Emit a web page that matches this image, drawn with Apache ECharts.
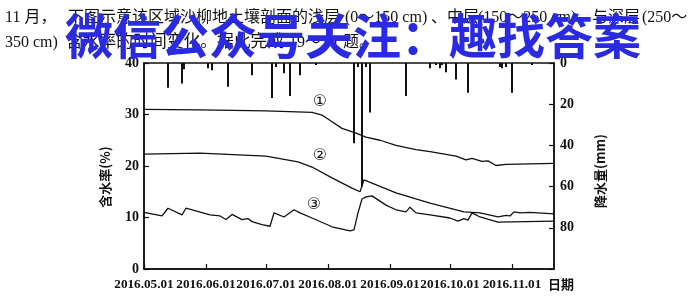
<!DOCTYPE html>
<html><head><meta charset="utf-8">
<script src="https://cdn.jsdelivr.net/npm/echarts@6/dist/echarts.min.js"></script>
<style>html,body{margin:0;padding:0;background:#fff}#c{width:700px;height:296px}</style>
</head><body><div id="c"></div>
<script>
const YEAR = 2016;
// Precipitation (mm), right axis, inverted
const precipDates = ['05-13','05-20','05-21','06-02','06-04','06-12','06-24','07-04','07-06','07-10','07-13','07-18','07-26','08-14','08-16','08-18','08-20','08-22','09-09','09-21','09-24','09-26','09-27','09-29','10-04','10-10','10-26','10-27','10-29','11-01','11-11'];
const precipValues = [12,10,3,2.5,3.5,11.5,6,17,2,5,16,6,1,39,2,60,2,24,16,2.5,1,2.5,1,4.5,8,14.5,2,2.5,2,14.5,1];
// ① shallow layer (0~150 cm) water content (%)
const shallowDates = ['05-01','05-29','07-01','07-24','07-29','08-03','08-08','08-15','08-20','08-27','09-04','09-14','09-21','10-04','10-09','10-12','10-17','10-20','10-24','10-29','11-22'];
const shallowValues = [31.0,30.9,30.7,30.4,29.9,28.6,27.3,26.4,25.6,25.0,24.0,23.2,22.8,21.9,21.2,21.5,20.9,21.0,20.1,20.3,20.5];
// ② middle layer (150~250 cm)
const midDates = ['05-01','05-29','07-01','07-17','07-24','08-03','08-13','08-17','08-18','08-19','08-20','09-04','09-21','10-08','10-16','10-25','10-29','10-31','11-02','11-05','11-10','11-22'];
const midValues = [22.3,22.5,21.9,20.8,19.8,17.7,15.7,15.0,15.2,17.3,17.5,14.8,12.8,11.1,10.9,10.1,10.4,10.3,11.1,10.9,11.0,10.7];
// ③ deep layer (250~350 cm)
const deepDates = ['05-01','05-10','05-13','05-20','05-22','06-03','06-08','06-11','06-14','06-19','06-22','06-24','06-29','07-03','07-05','07-10','07-15','07-18','07-24','08-03','08-12','08-14','08-16','08-17','08-18','08-20','08-21','08-23','08-24','08-30','09-04','09-09','09-11','09-14','09-21','10-01','10-05','10-08','10-10','10-12','10-16','10-25','11-22'];
const deepValues = [11.0,10.3,11.8,10.5,11.8,10.5,10.3,9.6,10.6,9.6,9.8,9.2,8.6,8.3,10.9,10.1,11.5,10.9,9.9,8.2,7.4,7.6,10.9,11.2,13.6,14.0,13.7,14.2,13.9,12.4,11.5,11.1,12.0,10.9,10.5,9.9,9.3,9.8,9.5,10.9,10.1,9.1,9.3];
// Axis ticks
const tickDates = ['05-01','06-01','07-01','08-01','09-01','10-01','11-01'];
const tickLabels = ['2016.05.01','2016.06.01','2016.07.01','2016.08.01','2016.09.01','2016.10.01','2016.11.01'];
const endDate = '11-22';
// Curve labels
const curveLabels = ['①','②','③'];
const curveLabelDates = ['07-28','07-28','07-25'];
const curveLabelValues = [32.5,22.0,12.4];

function dayOf(md){const p=md.split('-').map(Number);return (Date.UTC(YEAR,p[0]-1,p[1])-Date.UTC(YEAR,4,1))/86400000;}
const pair=(ds,vs)=>ds.map((d,i)=>[dayOf(d),vs[i]]);
const tickDays = tickDates.map(dayOf);
const serifFont = "'Liberation Serif','Noto Sans CJK SC',serif";
const cjkFont = "'Noto Sans CJK SC','Liberation Serif',sans-serif";
const ink = '#111';
const lineStyle = {color:ink,width:1.3};

const chart = echarts.init(document.getElementById('c'),null,{renderer:'canvas'});
chart.setOption({
  animation:false,
  backgroundColor:'#fff',
  grid:{left:144,right:146,top:63,bottom:27,show:true,borderColor:ink,borderWidth:1.5,backgroundColor:'transparent'},
  xAxis:{type:'value',min:0,max:dayOf(endDate),
    axisLine:{lineStyle:{color:ink,width:1.5}},
    splitLine:{show:false},
    axisTick:{inside:true,length:5,customValues:tickDays,lineStyle:{color:ink,width:1.2}},
    axisLabel:{customValues:tickDays,margin:9,color:ink,fontFamily:serifFont,fontWeight:'bold',fontSize:13.2,
      formatter:v=>{const i=tickDays.indexOf(v);return i>=0?tickLabels[i]:'';}}
  },
  yAxis:[
    {type:'value',min:0,max:40,interval:10,position:'left',
      axisLine:{show:true,lineStyle:{color:ink,width:1.5}},splitLine:{show:false},
      axisTick:{show:true,inside:true,length:5,lineStyle:{color:ink,width:1.2}},
      axisLabel:{margin:5,color:ink,fontFamily:serifFont,fontWeight:'bold',fontSize:14}},
    {type:'value',min:0,max:100,interval:20,inverse:true,position:'right',
      axisLine:{show:true,lineStyle:{color:ink,width:1.5}},splitLine:{show:false},
      axisTick:{show:true,inside:true,length:5,lineStyle:{color:ink,width:1.2}},
      axisLabel:{margin:6,color:ink,fontFamily:serifFont,fontWeight:'bold',fontSize:14,formatter:v=>v===100?'':String(v)}}
  ],
  series:[
    {type:'bar',yAxisIndex:1,data:pair(precipDates,precipValues),barWidth:2,itemStyle:{color:ink},z:2},
    {type:'line',data:pair(shallowDates,shallowValues),symbol:'none',lineStyle:lineStyle,z:3},
    {type:'line',data:pair(midDates,midValues),symbol:'none',lineStyle:lineStyle,z:3},
    {type:'line',data:pair(deepDates,deepValues),symbol:'none',lineStyle:lineStyle,z:3}
  ]
});

const g=[];
function txt(s,x,y,opt){g.push(Object.assign({type:'text',x:x,y:y,z:50,style:Object.assign({text:s,fill:ink,font:"16px "+serifFont,textAlign:'left',textVerticalAlign:'middle'},opt||{})}));}
// Question text
txt('11 月，',5,18);
txt('下图示意该区域沙柳地土壤剖面的浅层',68,18);
txt('(0～150 cm)',345,18);
txt('、中层',431,18);
txt('(150～250 cm)',478,18);
txt('与深层',592,18);
txt('(250～',642,18);
txt('350 cm)',5,43);
txt('含水率的时间变化。据此完成',66,43,{font:"16.8px "+serifFont});
txt('19～20',289,43);
txt('题。',343,43);
// Curve labels at data positions
curveLabels.forEach((s,i)=>{
  const p=chart.convertToPixel({gridIndex:0},[dayOf(curveLabelDates[i]),curveLabelValues[i]]);
  g.push({type:'text',x:p[0],y:p[1],z:40,style:{text:s,fill:ink,font:"16px 'DejaVu Sans',"+cjkFont,textAlign:'center',textVerticalAlign:'middle'}});
});
// Axis names
g.push({type:'text',x:105,y:177,rotation:Math.PI/2,z:40,style:{text:'含水率(%)',fill:ink,font:"bold 13px "+cjkFont,textAlign:'center',textVerticalAlign:'middle'}});
g.push({type:'text',x:600,y:171,rotation:Math.PI/2,z:40,style:{text:'降水量(mm)',fill:ink,font:"bold 13px "+cjkFont,textAlign:'center',textVerticalAlign:'middle'}});
g.push({type:'text',x:561,y:284,z:40,style:{text:'日期',fill:ink,font:"bold 13px "+cjkFont,textAlign:'center',textVerticalAlign:'middle'}});
// Watermark
g.push({type:'text',x:65,y:36,z:100,style:{text:'微信公众号关注：趣找答案',fill:'#2a2ae2',font:"bold 48px "+cjkFont,textAlign:'left',textVerticalAlign:'middle'}});
chart.setOption({graphic:g});
</script></body></html>
